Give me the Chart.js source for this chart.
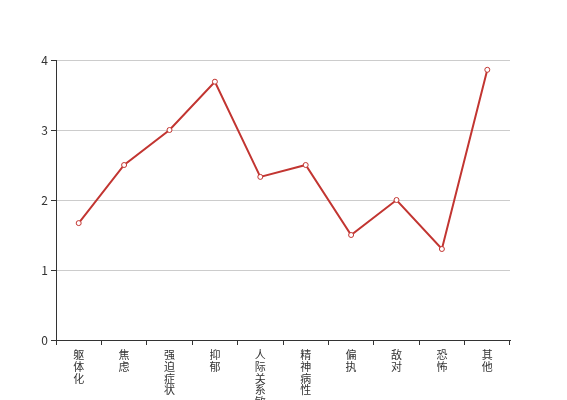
<!DOCTYPE html>
<html>
<head>
<meta charset="utf-8">
<script src="https://cdn.jsdelivr.net/npm/chart.js@4/dist/chart.umd.min.js"></script>
<style>
  html, body { margin: 0; padding: 0; background: #fff; }
  #wrap { width: 567px; height: 400px; position: relative; }
</style>
</head>
<body>
<div id="wrap"><canvas id="mycanvas"></canvas></div>
<script>
// 数据
var categories = ['躯体化', '焦虑', '强迫症状', '抑郁', '人际关系敏感', '精神病性', '偏执', '敌对', '恐怖', '其他'];
var scores = [1.67, 2.5, 3.0, 3.69, 2.33, 2.5, 1.5, 2.0, 1.3, 3.86];
var yTicks = [0, 1, 2, 3, 4];

// 竖排标签：每个字一行
var labels = categories.map(function (c) { return c.split(''); });

var fontFamily = '"Noto Sans CJK SC", "Noto Sans", sans-serif';

new Chart(document.getElementById('mycanvas'), {
  type: 'line',
  data: {
    labels: labels,
    datasets: [{
      data: scores,
      borderColor: '#c23531',
      backgroundColor: '#ffffff',
      borderWidth: 2,
      pointRadius: 2.5,
      pointBorderWidth: 1,
      pointBorderColor: '#c23531',
      pointBackgroundColor: '#ffffff',
      tension: 0,
      fill: false
    }]
  },
  options: {
    responsive: true,
    maintainAspectRatio: false,
    animation: false,
    layout: { padding: { top: 60, left: 0, right: 57, bottom: 0 } },
    plugins: { legend: { display: false }, tooltip: { enabled: false } },
    scales: {
      x: {
        offset: true,
        grid: { drawOnChartArea: false, tickLength: 5, tickColor: '#333', offset: true },
        border: { color: '#333', width: 1 },
        ticks: {
          color: '#333',
          font: { family: fontFamily, size: 11, lineHeight: '11.8px' },
          maxRotation: 0,
          autoSkip: false,
          padding: 4
        },
        afterFit: function (scale) { scale.height = 60; }
      },
      y: {
        min: yTicks[0],
        max: yTicks[yTicks.length - 1],
        afterBuildTicks: function (scale) {
          scale.ticks = yTicks.map(function (v) { return { value: v }; });
        },
        grid: { color: '#cccccc', tickLength: 5, tickColor: '#333' },
        border: { color: '#333', width: 1 },
        ticks: {
          color: '#333',
          font: { family: fontFamily, size: 12 },
          padding: 3
        },
        afterFit: function (scale) { scale.width = 56; }
      }
    }
  }
});
</script>
</body>
</html>
